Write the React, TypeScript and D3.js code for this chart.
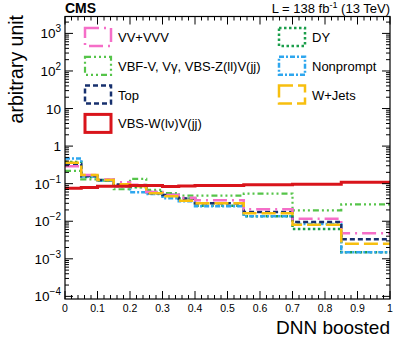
import React, { useEffect, useRef } from "react";
import * as d3 from "d3";

// bin edges of DNN boosted
const binEdges = [0, 0.05, 0.1, 0.15, 0.2, 0.25, 0.3, 0.35, 0.4, 0.55, 0.7, 0.85, 1];

const vvVvv = [0.29, 0.17, 0.13, 0.109, 0.093, 0.06, 0.05, 0.042, 0.036, 0.021, 0.0117, 0.0048];
const vbfV = [0.22, 0.13, 0.12, 0.071, 0.134, 0.068, 0.056, 0.048, 0.048, 0.054, 0.0195, 0.028];
const top = [0.33, 0.16, 0.125, 0.095, 0.09, 0.056, 0.05, 0.04, 0.03, 0.0175, 0.0095, 0.0033];
const vbsW = [0.075, 0.079, 0.085, 0.086, 0.089, 0.09, 0.084, 0.087, 0.089, 0.093, 0.096, 0.109];
const dy = [0.38, 0.15, 0.125, 0.09, 0.08, 0.06, 0.05, 0.04, 0.026, 0.0135, 0.0062, 0.0015];
const nonprompt = [0.47, 0.155, 0.12, 0.085, 0.059, 0.053, 0.041, 0.034, 0.025, 0.0135, 0.0085, 0.0015];
const wJets = [0.36, 0.17, 0.126, 0.096, 0.085, 0.056, 0.046, 0.035, 0.03, 0.0164, 0.0081, 0.0025];

const xTicks = [0, 0.1, 0.2, 0.3, 0.4, 0.5, 0.6, 0.7, 0.8, 0.9, 1];
const yDecades = [-4, -3, -2, -1, 0, 1, 2, 3];

const FONT = "'Liberation Sans', Arial, Helvetica, sans-serif";

const series = [
  { name: "DY", values: dy, color: "#1b9e4b", dash: "2.5,2.5", width: 2.5 },
  { name: "Nonprompt", values: nonprompt, color: "#2ea6ee", dash: "5,2,2,2", width: 2.5 },
  { name: "VBF-V, V\u03b3, VBS-Z(ll)V(jj)", values: vbfV, color: "#55c449", dash: "6,3,2,3,2,3,2,3", width: 2.2 },
  { name: "Top", values: top, color: "#17306e", dash: "5,3", width: 2.5 },
  { name: "VV+VVV", values: vvVvv, color: "#f56ec8", dash: "14,5,2,5", width: 2.5 },
  { name: "W+Jets", values: wJets, color: "#f7bf0f", dash: "14,5", width: 2.5 },
  { name: "VBS-W(l\u03bd)V(jj)", values: vbsW, color: "#d9141b", dash: null, width: 3 },
];

const legendLeft = ["VV+VVV", "VBF-V, V\u03b3, VBS-Z(ll)V(jj)", "Top", "VBS-W(l\u03bd)V(jj)"];
const legendRight = ["DY", "Nonprompt", "W+Jets"];

export default function App() {
  const ref = useRef<SVGSVGElement>(null);

  useEffect(() => {
    const width = 407;
    const height = 344;
    const margin = { top: 16.5, right: 17, bottom: 45, left: 65 };
    const w = width - margin.left - margin.right;
    const h = height - margin.top - margin.bottom;

    const svg = d3.select(ref.current);
    svg.selectAll("*").remove();

    const g = svg.append("g").attr("transform", `translate(${margin.left},${margin.top})`);

    const x = d3.scaleLinear().domain([0, 1]).range([0, w]);
    const y = d3.scaleLog().domain([Math.pow(10, -4.07), Math.pow(10, 3.45)]).range([h, 0]);

    // histograms
    const line = d3
      .line<[number, number]>()
      .x((d) => x(d[0]))
      .y((d) => y(d[1]))
      .curve(d3.curveStepAfter);

    series.forEach((s) => {
      const pts: [number, number][] = s.values.map((v, i) => [binEdges[i], v]);
      pts.push([binEdges[binEdges.length - 1], s.values[s.values.length - 1]]);
      g.append("path")
        .datum(pts)
        .attr("fill", "none")
        .attr("stroke", s.color)
        .attr("stroke-width", s.width)
        .attr("stroke-dasharray", s.dash)
        .attr("d", line);
    });

    // frame
    g.append("rect")
      .attr("width", w)
      .attr("height", h)
      .attr("fill", "none")
      .attr("stroke", "#000")
      .attr("stroke-width", 1.2);

    // x ticks (mirrored)
    const xMinor = d3.range(0, 51).map((i) => i / 50);
    xMinor.forEach((t) => {
      const major = Math.abs(t * 10 - Math.round(t * 10)) < 1e-6;
      const len = major ? 8 : 4;
      g.append("line").attr("x1", x(t)).attr("x2", x(t)).attr("y1", h).attr("y2", h - len).attr("stroke", "#000");
      g.append("line").attr("x1", x(t)).attr("x2", x(t)).attr("y1", 0).attr("y2", len).attr("stroke", "#000");
    });
    xTicks.forEach((t) => {
      g.append("text")
        .attr("x", x(t))
        .attr("y", h + 13)
        .attr("text-anchor", "middle")
        .style("font-family", FONT)
        .style("font-size", "10.5px")
        .text(d3.format("~g")(t));
    });

    // y ticks (mirrored)
    yDecades.forEach((d) => {
      for (let m = 1; m <= 9; m++) {
        const v = m * Math.pow(10, d);
        if (v < y.domain()[0] || v > y.domain()[1]) continue;
        const len = m === 1 ? 8 : 4;
        g.append("line").attr("x1", 0).attr("x2", len).attr("y1", y(v)).attr("y2", y(v)).attr("stroke", "#000");
        g.append("line").attr("x1", w).attr("x2", w - len).attr("y1", y(v)).attr("y2", y(v)).attr("stroke", "#000");
      }
      // label
      const t = g
        .append("text")
        .attr("x", -4)
        .attr("y", y(Math.pow(10, d)) + 5)
        .attr("text-anchor", "end")
        .style("font-family", FONT)
        .style("font-size", "13.5px");
      if (d === 0) t.text("1");
      else if (d === 1) t.text("10");
      else {
        t.append("tspan").text("10");
        t.append("tspan").attr("dy", -6).style("font-size", "10px").text(d < 0 ? `\u2212${-d}` : `${d}`);
      }
    });

    // axis titles
    svg.append("text")
      .attr("transform", `translate(23,15) rotate(-90)`)
      .attr("text-anchor", "end")
      .style("font-family", FONT)
      .style("font-size", "19.5px")
      .text("arbitrary unit");

    svg.append("text")
      .attr("x", margin.left + w)
      .attr("y", 334)
      .attr("text-anchor", "end")
      .style("font-family", FONT)
      .style("font-size", "19px")
      .text("DNN boosted");

    // header
    svg.append("text")
      .attr("x", margin.left)
      .attr("y", 13)
      .style("font-family", FONT)
      .style("font-size", "14px")
      .style("font-weight", "bold")
      .text("CMS");

    const lumi = svg.append("text")
      .attr("x", margin.left + w)
      .attr("y", 13)
      .attr("text-anchor", "end")
      .style("font-family", FONT)
      .style("font-size", "13px");
    lumi.append("tspan").text("L = 138 fb");
    lumi.append("tspan").attr("dy", -5).style("font-size", "9px").text("-1");
    lumi.append("tspan").attr("dy", 5).text(" (13 TeV)");

    // legend
    const byName = new Map(series.map((s) => [s.name, s]));
    const drawLegend = (names: string[], bx: number) => {
      names.forEach((n, i) => {
        const s = byName.get(n)!;
        const cy = 37 + i * 28.8;
        svg.append("rect")
          .attr("x", bx)
          .attr("y", cy - 9)
          .attr("width", 26)
          .attr("height", 18)
          .attr("fill", "none")
          .attr("stroke", s.color)
          .attr("stroke-width", s.width)
          .attr("stroke-dasharray", s.dash);
        svg.append("text")
          .attr("x", bx + 33)
          .attr("y", cy + 5)
          .style("font-family", FONT)
          .style("font-size", "13px")
          .text(n);
      });
    };
    drawLegend(legendLeft, 85);
    drawLegend(legendRight, 279);
  }, []);

  return (
    <svg
      ref={ref}
      width={407}
      height={344}
      style={{ position: "absolute", left: 0, top: 0, background: "#fff" }}
    />
  );
}
